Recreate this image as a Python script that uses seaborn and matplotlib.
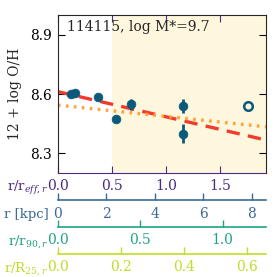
import numpy as np
import pandas as pd
import matplotlib
matplotlib.use("Agg")
import matplotlib.pyplot as plt
import seaborn as sns

# data
r_eff = [0.12, 0.157, 0.37, 0.54, 0.676, 1.16, 1.16]
oh = [8.600, 8.605, 8.585, 8.476, 8.548, 8.540, 8.400]
oh_err = [0.008, 0.010, 0.008, 0.006, 0.027, 0.034, 0.050]
r_out = [1.756]
oh_out = [8.540]

# fits: intercept, slope (per r_eff)
fit_red = (8.612, -0.127)
fit_orange = (8.544, -0.057)

# conversion factors from r/r_eff
kpc_per_reff = 4.46
r90_per_reff = 0.656
r25_per_reff = 0.342

c_main = "#0b5a7c"
c_eff = "#4b2c82"
c_kpc = "#3b6a98"
c_r90 = "#20a486"
c_r25 = "#bfdd2a"

sns.set_style("ticks")
plt.rcParams["font.family"] = ["DejaVu Serif"]
plt.rcParams["mathtext.fontset"] = "dejavuserif"

fig = plt.figure(figsize=(2.77, 2.77), dpi=100)
ax = fig.add_axes([0.209, 0.375, 0.751, 0.571])

xlim = (0, 1.926)
ax.axvspan(0.5, xlim[1], color="#fef7de", lw=0, zorder=0)

df = pd.DataFrame({"r": r_eff, "oh": oh})
ax.errorbar(r_eff, oh, yerr=oh_err, fmt="none", ecolor=c_main, elinewidth=2, zorder=3)
sns.scatterplot(data=df, x="r", y="oh", ax=ax, color=c_main, s=40, edgecolor=c_main, zorder=4)
ax.plot(r_out, oh_out, "o", mfc="none", mec=c_main, mew=1.8, ms=6.2, zorder=4)

xx = np.linspace(xlim[0], xlim[1], 50)
lines = pd.DataFrame({"x": xx,
                      "red": fit_red[0] + fit_red[1] * xx,
                      "orange": fit_orange[0] + fit_orange[1] * xx})
sns.lineplot(data=lines, x="x", y="red", ax=ax, color="#f23b2c", lw=2.4, ls=(0, (4, 2.5)), zorder=2)
sns.lineplot(data=lines, x="x", y="orange", ax=ax, color="#ffa23f", lw=2.4, ls=(0, (0.8, 1.6)), zorder=2)

ax.set_xlim(*xlim)
ax.set_ylim(8.2, 9.0)
ax.set_yticks([8.3, 8.6, 8.9])
ax.set_xticks([0.0, 0.5, 1.0, 1.5])
ax.set_xlabel("")
ax.set_ylabel("12 + log O/H", fontsize=10, labelpad=6)
ax.tick_params(axis="both", direction="in", top=True, right=True, labelsize=10, length=5, pad=4.5)
ax.tick_params(axis="x", colors=c_eff)
ax.tick_params(axis="y", colors="black")
ax.spines["bottom"].set_color(c_eff)
ax.text(0.045, 0.965, "114115, log M*=9.7", transform=ax.transAxes, fontsize=10, va="top")

secondaries = [
    (-0.172, kpc_per_reff, [0, 2, 4, 6, 8], ["0", "2", "4", "6", "8"], c_kpc, "r [kpc]"),
    (-0.342, r90_per_reff, [0.0, 0.5, 1.0], ["0.0", "0.5", "1.0"], c_r90, "r/r$_{90,r}$"),
    (-0.511, r25_per_reff, [0.0, 0.2, 0.4, 0.6], ["0.0", "0.2", "0.4", "0.6"], c_r25, "r/R$_{25,r}$"),
]
for loc, k, ticks, labels, col, name in secondaries:
    sec = ax.secondary_xaxis(loc, functions=(lambda x, k=k: x * k, lambda x, k=k: x / k))
    sec.set_xticks(ticks)
    sec.set_xticklabels(labels)
    sec.tick_params(direction="in", colors=col, labelsize=10, length=5, width=1, pad=4.5)
    sec.spines["bottom"].set_color(col)
    sec.spines["bottom"].set_linewidth(1.2)
    ax.text(-0.045, loc - 0.09, name, transform=ax.transAxes, ha="right", va="center",
            color=col, fontsize=9.5)

ax.text(-0.045, -0.092, "r/r$_{eff,r}$", transform=ax.transAxes, ha="right", va="center",
        color=c_eff, fontsize=9.5)

fig.savefig("out.png", dpi=100)
